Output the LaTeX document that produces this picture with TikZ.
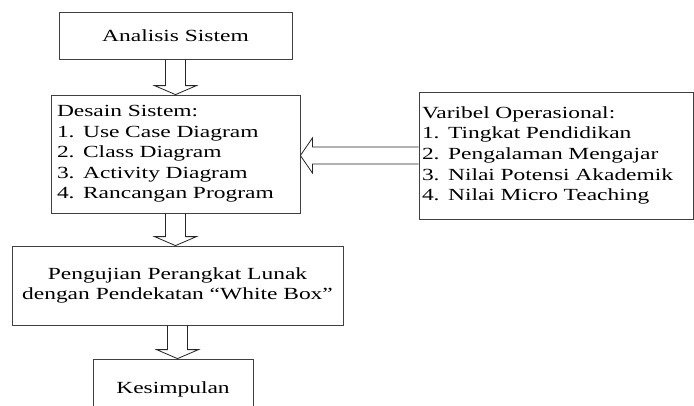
\documentclass[tikz,border=0pt]{standalone}
\usepackage{fontspec}
\setmainfont{Liberation Serif}[FakeStretch=1.38]
\usetikzlibrary{calc}

\newcommand{\hollowdown}[2]{%
  \draw[blockarrow] let \p1=(#1.south), \p2=(#2.north) in
    (\x1-10pt,\y1) -- (\x1-10pt,\y2+9pt) -- (\x1-21pt,\y2+9pt) -- (\x1,\y2)
    -- (\x1+21pt,\y2+9pt) -- (\x1+10pt,\y2+9pt) -- (\x1+10pt,\y1);
}
\newcommand{\hollowleft}[2]{%
  \draw[blockarrow] let \p1=(#1.west), \p2=(#2.east) in
    (\x1,\y1+8.5pt) -- (\x2+12pt,\y1+8.5pt) -- (\x2+12pt,\y1+17.5pt) -- (\x2,\y1)
    -- (\x2+12pt,\y1-17.5pt) -- (\x2+12pt,\y1-8.5pt) -- (\x1,\y1-8.5pt);
}

\begin{document}
\begin{tikzpicture}[
  x=1pt, y=-1pt,
  every node/.style={
    draw=black!75,
    line width=0.8pt,
    inner sep=0pt,
    font=\fontsize{17}{20.6}\selectfont
  },
  blockarrow/.style={draw=black!85, line width=0.8pt}
]
  \clip (0,0) rectangle (694,405);

  \node[minimum width=233, minimum height=47] (analisis) at (175.5,35.5) {Analisis Sistem};
  \node[minimum width=249, minimum height=118, text width=237, align=left] (desain) at (175.5,154)
    {Desain Sistem:\\1. Use Case Diagram\\2. Class Diagram\\3. Activity Diagram\\4. Rancangan Program};
  \node[minimum width=274, minimum height=127, text width=268, align=left] (varibel) at (556,155.5)
    {Varibel Operasional:\\1. Tingkat Pendidikan\\2. Pengalaman Mengajar\\3. Nilai Potensi Akademik\\4. Nilai Micro Teaching};
  \node[minimum width=331, minimum height=79, align=center] (pengujian) at (177.5,285.5)
    {Pengujian Perangkat Lunak\\dengan Pendekatan “White Box”};
  \node[minimum width=160, minimum height=60] (kesimpulan) at (173,389) {Kesimpulan};

  \hollowdown{analisis}{desain}
  \hollowdown{desain}{pengujian}
  \hollowdown{pengujian}{kesimpulan}
  \hollowleft{varibel}{desain}

\end{tikzpicture}
\end{document}
